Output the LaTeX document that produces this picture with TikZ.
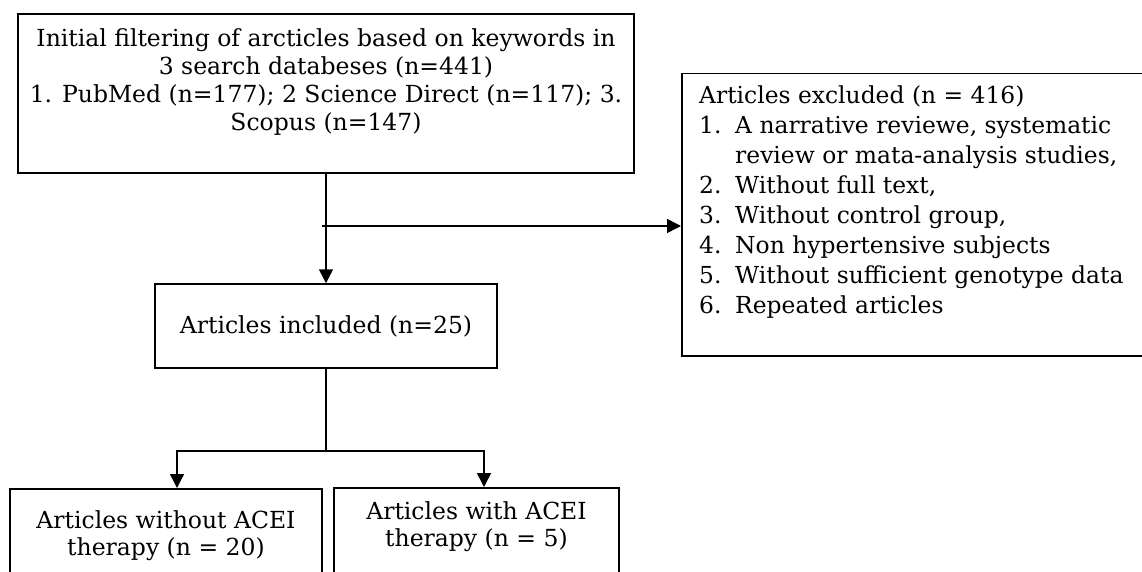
\documentclass[tikz,border=0pt]{standalone}
\usepackage{fontspec}
\setmainfont{DejaVu Serif}
\usetikzlibrary{arrows.meta,calc}
\begin{document}
\begin{tikzpicture}[x=1pt,y=-1pt,
  box/.style={draw=black,line width=1.5pt,inner sep=0pt},
  txt/.style={inner sep=0pt,align=center},
  conn/.style={line width=1.5pt,draw=black},
  arr/.style={conn,-{Triangle[length=14pt,width=14pt]}}]
\useasboundingbox (0,0) rectangle (1142,572);
\clip (0,0) rectangle (1142,572);
% top box
\node[box,minimum width=616pt,minimum height=159pt] (top) at (326,93.5) {};
\node[txt,anchor=north,font=\fontsize{23.5}{28}\selectfont] (toptext) at (326,28.5)
  {Initial filtering of arcticles based on keywords in\\3 search databeses (n=441)\\1. PubMed (n=177); 2 Science Direct (n=117); 3.\\Scopus (n=147)};
% excluded box
\node[box,minimum width=490pt,minimum height=282pt,anchor=north west] (excl) at (681,73) {};
\node[inner sep=0pt,anchor=north west,font=\fontsize{23.4}{30.1}\selectfont] (excltext) at (699,82)
  {\begin{tabular}{@{}p{36pt}@{}l@{}}
   \multicolumn{2}{@{}l@{}}{Articles excluded (n = 416)}\\
   1. & A narrative reviewe, systematic\\
      & review or mata-analysis studies,\\
   2. & Without full text,\\
   3. & Without control group,\\
   4. & Non hypertensive subjects\\
   5. & Without sufficient genotype data\\
   6. & Repeated articles
   \end{tabular}};
% included box
\node[box,minimum width=342pt,minimum height=84pt,font=\fontsize{23.5}{28}\selectfont] (inc) at (326,326) {Articles included (n=25)};
% bottom boxes
\node[box,minimum width=312pt,minimum height=120pt,anchor=north] (lbox) at (166,488) {};
\node[txt,anchor=north,font=\fontsize{23.5}{26.5}\selectfont] (ltext) at (166,510.5) {Articles without ACEI\\therapy (n = 20)};
\node[box,minimum width=285pt,minimum height=120pt,anchor=north] (rbox) at (476.5,487) {};
\node[txt,anchor=north,font=\fontsize{23.5}{27}\selectfont] (rtext) at (476.5,501.5) {Articles with ACEI\\therapy (n = 5)};
% connectors
\draw[arr] (top.south) -- (inc.north);
\coordinate (j) at (326,226);
\draw[arr] ([xshift=-4pt]j) -- (j -| excl.west);
\coordinate (b) at (326,451);
\coordinate (bl) at (177,451);
\coordinate (br) at (484,451);
\draw[conn] (inc.south) -- (b);
\draw[arr] (b) -- (bl) -- (bl |- lbox.north);
\draw[arr] (b) -- (br) -- (br |- rbox.north);
\end{tikzpicture}
\end{document}
